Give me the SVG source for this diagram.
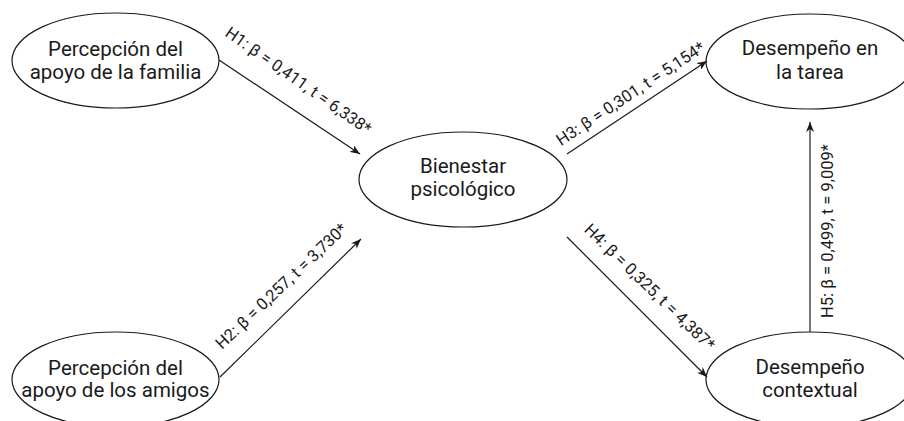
<svg xmlns="http://www.w3.org/2000/svg" width="904" height="421" viewBox="0 0 904 421">
<style>
.node ellipse{fill:#fff;stroke:#1a1a1a;stroke-width:1.2}
.node text{font-family:Roboto,"Liberation Sans",sans-serif;font-size:20.5px;fill:#1a1a1a;text-anchor:middle}
.edges line{stroke:#1a1a1a;stroke-width:1.2;marker-end:url(#arr)}
.lbl{font-family:Roboto,"Liberation Sans",sans-serif;font-size:16.5px;fill:#1a1a1a;text-anchor:middle}
</style>
<defs>
<marker id="arr" markerUnits="userSpaceOnUse" viewBox="0 0 10 8" refX="10" refY="4" markerWidth="10" markerHeight="8" orient="auto">
<path d="M0,0 L10,4 L0,8 L3,4 z" fill="#1a1a1a"/>
</marker>
</defs>
<rect width="904" height="421" fill="#fff"/>
<g id="fam" class="node">
<ellipse cx="115.5" cy="60.5" rx="103.5" ry="47.5"/>
<text x="115.5" y="56">Percepción del</text>
<text x="115.5" y="79">apoyo de la familia</text>
</g>
<g id="ami" class="node">
<ellipse cx="115.5" cy="379.5" rx="103.5" ry="47.5"/>
<text x="115.5" y="375">Percepción del</text>
<text x="115.5" y="397">apoyo de los amigos</text>
</g>
<g id="bien" class="node">
<ellipse cx="463" cy="179.5" rx="104" ry="47.5"/>
<text x="463" y="172.5">Bienestar</text>
<text x="463" y="195.5">psicológico</text>
</g>
<g id="tarea" class="node">
<ellipse cx="810" cy="61.5" rx="104" ry="47.5"/>
<text x="810" y="54.5">Desempeño en</text>
<text x="810" y="78.5">la tarea</text>
</g>
<g id="ctx" class="node">
<ellipse cx="810" cy="379.5" rx="104" ry="47.5"/>
<text x="810" y="373.5">Desempeño</text>
<text x="810" y="397">contextual</text>
</g>
<g id="edges" class="edges">
<line x1="219" y1="60" x2="360" y2="154"/>
<line x1="220" y1="377" x2="361" y2="239"/>
<line x1="567" y1="154" x2="707" y2="61"/>
<line x1="567" y1="237" x2="707" y2="377"/>
<line x1="810" y1="332" x2="810" y2="122"/>
<text class="lbl" transform="translate(298,81) rotate(35)" y="5">H1: β = 0,411, t = 6,338*</text>
<text class="lbl" transform="translate(281.7,286.5) rotate(-43.5)" y="5">H2: β = 0,257, t = 3,730*</text>
<text class="lbl" transform="translate(630.8,94.2) rotate(-33.5)" y="5">H3: β = 0,301, t = 5,154*</text>
<text class="lbl" transform="translate(649.2,287.5) rotate(44)" y="5">H4: β = 0,325, t = 4,387*</text>
<text class="lbl" transform="translate(827.5,231) rotate(-90)" y="5">H5: β = 0,499, t = 9,009*</text>
</g>
</svg>
